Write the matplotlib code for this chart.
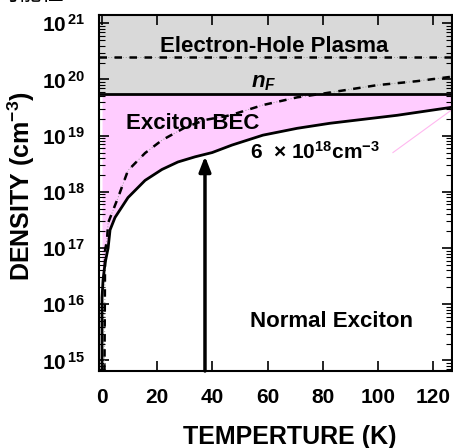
import matplotlib
matplotlib.use("Agg")
import matplotlib.pyplot as plt
import numpy as np

plt.rcParams['font.family'] = ['Liberation Sans', 'DejaVu Sans']
plt.rcParams['font.weight'] = 'bold'
plt.rcParams['mathtext.fontset'] = 'custom'
plt.rcParams['mathtext.rm'] = 'Liberation Sans:bold'
plt.rcParams['mathtext.bf'] = 'Liberation Sans:bold'
plt.rcParams['mathtext.it'] = 'Liberation Sans:bold:italic'

# ---- data ----
# critical (BEC) density curve: temperature (K) and density (cm^-3)
T_bec = [0.0, 0.0, 0.36, 1.1, 2.2, 2.9, 4.7, 9.4, 15.6, 21.7, 27.5, 33.7, 39.9,
         47.1, 58.3, 70.7, 82.6, 94.6, 106.9, 126.8]
n_bec = [1e14, 1.3e16, 2.7e16, 5.4e16, 1.0e17, 2.1e17, 3.5e17, 7.9e17, 1.6e18,
         2.5e18, 3.4e18, 4.2e18, 5.0e18, 6.8e18, 1.02e19, 1.35e19, 1.66e19,
         1.95e19, 2.3e19, 3.2e19]
# n_F curve (dashed)
T_nf = [0.8, 1.1, 1.8, 2.2, 5.8, 9.4, 15.6, 21.7, 30.1, 37.3, 46.4, 58.3, 70.7,
        80.1, 99.6, 114.0, 126.8]
n_nf = [1e14, 9.1e16, 1.4e17, 2.8e17, 7.9e17, 2.4e18, 4.9e18, 8.3e18, 1.4e19,
        1.9e19, 2.3e19, 3.5e19, 4.8e19, 5.6e19, 7.9e19, 9.3e19, 1.12e20]
n_mott = 5.6e19      # exciton BEC / plasma boundary (solid horizontal)
n_ehp = 2.5e20       # electron-hole plasma boundary (dashed horizontal)
T_arrow = 37.3
n_arrow = 4.3e18
T_streak = [105.4, 126.8]
n_streak = [5.0e18, 2.9e19]

xticks = [0, 20, 40, 60, 80, 100, 120]
yticks = [1e15, 1e16, 1e17, 1e18, 1e19, 1e20, 1e21]

fig = plt.figure(figsize=(4.53, 4.48), dpi=100)
ax = fig.add_axes([99/453, 1-371/448, (452-99)/453, (371-15)/448])
ax.set_yscale('log')
xmin, xmax = -1.1, 126.8
ymin, ymax = 6.5e14, 1.4e21
ax.set_xlim(xmin, xmax)
ax.set_ylim(ymin, ymax)

pink = '#FFCCFF'
gray = '#D9D9D9'
ax.axhspan(n_mott, ymax, color=gray, zorder=0, lw=0)
ax.fill_between(T_bec, n_bec, n_mott, color=pink, zorder=0.5, lw=0)
ax.plot(T_streak, n_streak, color='#FFB8F0', lw=0.8, zorder=1)

# dashed n_F curve and plasma boundary (black dashes over gray dots)
ax.plot(T_nf, n_nf, color='#999999', lw=0.7, ls=(0, (1, 2)), zorder=2)
ax.plot(T_nf, n_nf, color='black', lw=1.8, ls=(0, (3, 3)), zorder=2)
ax.axhline(n_ehp, color='#999999', lw=0.7, ls=(0, (1, 2)), zorder=2)
ax.axhline(n_ehp, color='black', lw=1.8, ls=(0, (3, 3)), zorder=2)

ax.plot(T_bec, n_bec, color='black', lw=2, zorder=3)
ax.axhline(n_mott, color='black', lw=2, zorder=3)

ax.annotate('', xy=(T_arrow, n_arrow), xytext=(T_arrow, ymin),
            arrowprops=dict(arrowstyle='-|>,head_length=0.9,head_width=0.35',
                            color='black', lw=2.5, shrinkA=0, shrinkB=0),
            zorder=4)

fs = 16
ax.text(62.5, 10**20.58, 'Electron-Hole Plasma', ha='center', va='center', fontsize=fs, fontweight='bold')
ax.text(58.5, 10**19.95, r'$\mathit{n_F}$', ha='center', va='center', fontsize=fs)
ax.text(33, 10**19.22, 'Exciton BEC', ha='center', va='center', fontsize=fs, fontweight='bold')
ax.text(53.5, 10**18.72, r'6  $\times$ 10$^{18}$cm$^{-3}$', ha='left', va='center', fontsize=15)
ax.text(83, 10**15.7, 'Normal Exciton', ha='center', va='center', fontsize=fs, fontweight='bold')

ax.set_xticks(xticks)
ax.set_xticklabels([str(v) for v in xticks])
ax.set_yticks(yticks)
ax.set_yticklabels([r'10$^{\,%d}$' % int(np.log10(v)) for v in yticks])
ax.tick_params(axis='both', which='major', direction='in', length=7, width=1.2,
               labelsize=15, top=True, right=True)
ax.tick_params(axis='x', pad=12)
ax.tick_params(axis='y', pad=10)
ax.tick_params(axis='y', which='minor', direction='in', length=4, width=0.8,
               left=True, right=True)
ax.tick_params(axis='x', which='minor', bottom=False, top=False)
for lab in ax.get_xticklabels() + ax.get_yticklabels():
    lab.set_fontweight('bold')
for s in ax.spines.values():
    s.set_linewidth(1.5)

ax.set_xlabel('TEMPERTURE (K)', fontsize=18, fontweight='bold')
ax.xaxis.set_label_coords((290-99)/353, -(425-371)/356)
ax.set_ylabel(r'DENSITY (cm$^{-3}$)', fontsize=18, fontweight='bold')
ax.yaxis.set_label_coords(-(99-37)/353, 0.52)

fig.text(-2/453, 1-0.5/448, '可能性', ha='left', va='baseline', fontsize=16,
         family=['Noto Sans CJK SC', 'DejaVu Sans'], fontweight='normal')

fig.savefig('out.png', dpi=100)
